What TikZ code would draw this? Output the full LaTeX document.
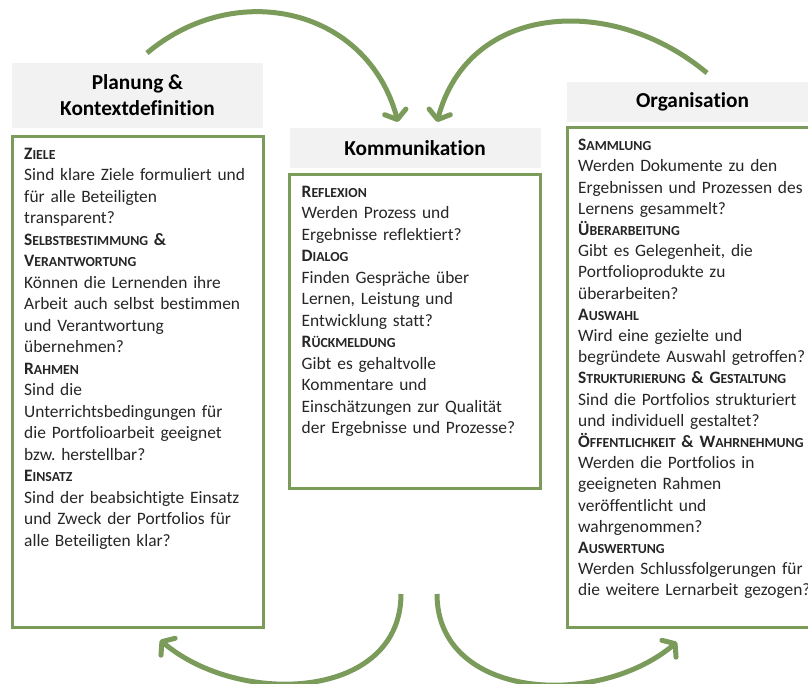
\documentclass[tikz,border=0pt]{standalone}
\usepackage{fontspec}
\setmainfont{Carlito}[Ligatures=NoCommon]
\usepackage{tikz}
\usetikzlibrary{positioning,arrows.meta}
\definecolor{PortGreen}{HTML}{7A9B5A}
\definecolor{KopfGrau}{HTML}{F2F2F2}
\definecolor{TextGrau}{HTML}{262626}
\newcommand\rubrik[2]{\textbf{#1{\fontsize{13.8}{21.5}\selectfont\MakeUppercase{#2}}}}
\frenchspacing

\begin{document}
\begin{tikzpicture}[x=1pt, y=1pt,
    kopf/.style={fill=KopfGrau, minimum width=251pt, inner sep=0pt, outer sep=0pt, align=center, font=\fontsize{21.3}{26}\selectfont\bfseries},
    rahmen/.style={draw=PortGreen, line width=3pt, fill=white, minimum width=251pt, inner sep=0pt, outer sep=0pt},
    inhalt/.style={inner sep=0pt, text width=270pt, align=left, text=TextGrau, font=\fontsize{17.4}{21.5}\selectfont},
    kreispfeil/.style={-{Straight Barb[length=8pt, width=22pt, round]}, line width=5pt, PortGreen}]
        \path[use as bounding box] (0,0) rectangle (808,-684);
        \clip (0,0) rectangle (808,-684);

        % Kreislauf: Planung -> Kommunikation <- Organisation
        \node[kopf, minimum height=65pt] (planhead) at (137.5,-95.5) {Planung \&\\Kontextdefinition};
        \node[kopf, minimum height=40pt] (komhead) at (415,-148) {Kommunikation};
        \node[kopf, minimum height=40pt] (orghead) at (692.5,-102) {Organisation};

        \node[rahmen, minimum height=490pt, below=9pt of planhead] (planbox) {};
        \node[rahmen, minimum height=313pt, below=7pt of komhead] (kombox) {};
        \node[rahmen, minimum height=499pt, below=6pt of orghead] (orgbox) {};

        \node[inhalt, below right=11pt and 12pt of planbox.north west] (plantext) {%
            \rubrik{Z}{iele}\\
            Sind klare Ziele formuliert und\\
            für alle Beteiligten\\
            transparent?\\
            \rubrik{S}{elbstbestimmung} \textbf{\&}\\
            \rubrik{V}{erantwortung}\\
            Können die Lernenden ihre\\
            Arbeit auch selbst bestimmen\\
            und Verantwortung\\
            übernehmen?\\
            \rubrik{R}{ahmen}\\
            Sind die\\
            Unterrichtsbedingungen für\\
            die Portfolioarbeit geeignet\\
            bzw. herstellbar?\\
            \rubrik{E}{insatz}\\
            Sind der beabsichtigte Einsatz\\
            und Zweck der Portfolios für\\
            alle Beteiligten klar?};
        \node[inhalt, below right=11pt and 12pt of kombox.north west] (komtext) {%
            \rubrik{R}{eflexion}\\
            Werden Prozess und\\
            Ergebnisse reflektiert?\\
            \rubrik{D}{ialog}\\
            Finden Gespräche über\\
            Lernen, Leistung und\\
            Entwicklung statt?\\
            \rubrik{R}{ückmeldung}\\
            Gibt es gehaltvolle\\
            Kommentare und\\
            Einschätzungen zur Qualität\\
            der Ergebnisse und Prozesse?};
        \node[inhalt, font=\fontsize{17.4}{21.2}\selectfont, below right=11pt and 11pt of orgbox.north west] (orgtext) {%
            \rubrik{S}{ammlung}\\
            Werden Dokumente zu den\\
            Ergebnissen und Prozessen des\\
            Lernens gesammelt?\\
            \rubrik{Ü}{berarbeitung}\\
            Gibt es Gelegenheit, die\\
            Portfolioprodukte zu\\
            überarbeiten?\\
            \rubrik{A}{uswahl}\\
            Wird eine gezielte und\\
            begründete Auswahl getroffen?\\
            \rubrik{S}{trukturierung} \textbf{\&} \rubrik{G}{estaltung}\\
            Sind die Portfolios strukturiert\\
            und individuell gestaltet?\\
            \rubrik{Ö}{ffentlichkeit} \textbf{\&} \rubrik{W}{ahrnehmung}\\
            Werden die Portfolios in\\
            geeigneten Rahmen\\
            veröffentlicht und\\
            wahrgenommen?\\
            \rubrik{A}{uswertung}\\
            Werden Schlussfolgerungen für\\
            die weitere Lernarbeit gezogen?};

        \draw[kreispfeil] ([xshift=9.5pt, yshift=10pt]planhead.north) to[out=40, in=105, looseness=1.15] ([xshift=-17pt, yshift=6pt]komhead.north);
        \draw[kreispfeil] ([xshift=14.5pt, yshift=9pt]orghead.north) to[out=140, in=75, looseness=1.15] ([xshift=22pt, yshift=6pt]komhead.north);
        \draw[kreispfeil] ([xshift=-14pt, yshift=-106pt]kombox.south) to[out=270, in=-40, looseness=1.1] ([xshift=22.5pt, yshift=-13pt]planbox.south);
        \draw[kreispfeil] ([xshift=22pt, yshift=-106pt]kombox.south) to[out=270, in=220, looseness=1.1] ([xshift=-15.5pt, yshift=-15pt]orgbox.south);
    \end{tikzpicture}
\end{document}
